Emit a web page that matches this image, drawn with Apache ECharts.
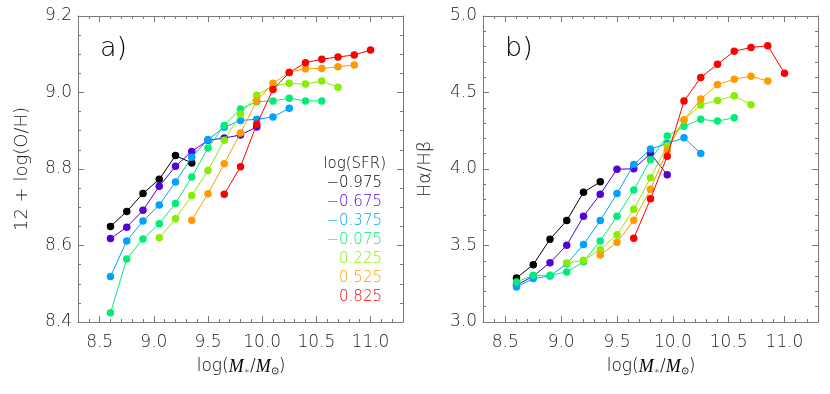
<!DOCTYPE html>
<html><head><meta charset="utf-8">
<script src="https://cdn.jsdelivr.net/npm/echarts@6/dist/echarts.min.js"></script>
<style>html,body{margin:0;padding:0;background:#fff}#c{width:830px;height:394px}</style>
</head><body><div id="c"></div>
<script>
// ---------- data ----------
const masses = [8.60, 8.75, 8.90, 9.05, 9.20, 9.35, 9.50, 9.65, 9.80, 9.95, 10.10, 10.25, 10.40, 10.55, 10.70, 10.85, 11.00];
const sfrLabels = ['\u22120.975', '\u22120.675', '\u22120.375', '\u22120.075', '0.225', '0.525', '0.825'];
const sfrColors = ['#000000', '#5200d6', '#00a2ff', '#00ee78', '#88ee00', '#ff9a00', '#ff0000'];
const startBin = [0, 0, 0, 0, 3, 5, 7];

// panel a) 12 + log(O/H)
const ohM0975 = [8.650, 8.689, 8.736, 8.773, 8.835, 8.816];
const ohM0675 = [8.618, 8.648, 8.692, 8.755, 8.807, 8.846, 8.875, 8.881, 8.889, 8.910];
const ohM0375 = [8.519, 8.612, 8.664, 8.706, 8.766, 8.831, 8.877, 8.909, 8.927, 8.930, 8.936, 8.959];
const ohM0075 = [8.424, 8.565, 8.617, 8.657, 8.710, 8.779, 8.855, 8.914, 8.957, 8.976, 8.978, 8.985, 8.978, 8.978];
const ohP0225 = [8.620, 8.670, 8.731, 8.796, 8.875, 8.943, 8.993, 9.017, 9.024, 9.022, 9.030, 9.014];
const ohP0525 = [8.666, 8.735, 8.814, 8.894, 8.978, 9.024, 9.053, 9.062, 9.063, 9.067, 9.072];
const ohP0825 = [8.734, 8.806, 8.917, 9.008, 9.052, 9.078, 9.087, 9.093, 9.098, 9.111];

// panel b) Halpha/Hbeta
const baM0975 = [3.288, 3.375, 3.541, 3.663, 3.848, 3.916];
const baM0675 = [3.240, 3.300, 3.388, 3.502, 3.691, 3.835, 3.999, 4.001, 4.101, 3.962];
const baM0375 = [3.229, 3.284, 3.301, 3.380, 3.506, 3.663, 3.840, 4.029, 4.130, 4.167, 4.204, 4.102];
const baM0075 = [3.262, 3.305, 3.305, 3.327, 3.393, 3.530, 3.691, 3.862, 4.060, 4.215, 4.280, 4.325, 4.313, 4.335];
const baP0225 = [3.385, 3.403, 3.473, 3.571, 3.737, 3.942, 4.152, 4.320, 4.419, 4.448, 4.479, 4.420];
const baP0525 = [3.438, 3.521, 3.665, 3.868, 4.123, 4.321, 4.457, 4.552, 4.587, 4.606, 4.575];
const baP0825 = [3.547, 3.805, 4.084, 4.444, 4.598, 4.685, 4.770, 4.794, 4.806, 4.626];

// ticks
const xTicks = [8.5, 9.0, 9.5, 10.0, 10.5, 11.0];
const xMinorTicks = [8.3,8.4,8.5,8.6,8.7,8.8,8.9,9.0,9.1,9.2,9.3,9.4,9.5,9.6,9.7,9.8,9.9,10.0,10.1,10.2,10.3,10.4,10.5,10.6,10.7,10.8,10.9,11.0,11.1,11.2,11.3];
const yTicksA = [8.4, 8.6, 8.8, 9.0, 9.2];
const yMinorA = [8.4,8.45,8.5,8.55,8.6,8.65,8.7,8.75,8.8,8.85,8.9,8.95,9.0,9.05,9.1,9.15,9.2];
const yTicksB = [3.0, 3.5, 4.0, 4.5, 5.0];
const yMinorB = [3.0,3.1,3.2,3.3,3.4,3.5,3.6,3.7,3.8,3.9,4.0,4.1,4.2,4.3,4.4,4.5,4.6,4.7,4.8,4.9,5.0];

// ---------- chart ----------
const FONT = "'DejaVu Sans', sans-serif";
const AX = '#7a7a7a';
const TXT = '#222';
const X_MIN = 8.3, X_MAX = 11.3;

function xAxesFor(g) {
  const base = {gridIndex: g, type: 'value', min: X_MIN, max: X_MAX, splitLine: {show: false}};
  return [
    Object.assign({}, base, {position: 'bottom',
      axisLine: {show: true, lineStyle: {color: AX, width: 1}},
      axisTick: {show: true, inside: true, length: 6, customValues: xTicks, lineStyle: {color: AX}},
      axisLabel: {show: true, customValues: xTicks, formatter: v => v.toFixed(1), margin: 12,
        fontSize: 17, color: TXT, fontFamily: FONT, fontWeight: 200}}),
    Object.assign({}, base, {position: 'bottom', axisLine: {show: false},
      axisTick: {show: true, inside: true, length: 3, customValues: xMinorTicks, lineStyle: {color: AX}},
      axisLabel: {show: false}}),
    Object.assign({}, base, {position: 'top',
      axisLine: {show: true, lineStyle: {color: AX, width: 1}},
      axisTick: {show: true, inside: true, length: 6, customValues: xTicks, lineStyle: {color: AX}},
      axisLabel: {show: false}}),
    Object.assign({}, base, {position: 'top', axisLine: {show: false},
      axisTick: {show: true, inside: true, length: 3, customValues: xMinorTicks, lineStyle: {color: AX}},
      axisLabel: {show: false}})
  ];
}
function yAxesFor(g, mn, mx, major, minor) {
  const base = {gridIndex: g, type: 'value', min: mn, max: mx, splitLine: {show: false}};
  return [
    Object.assign({}, base, {position: 'left',
      axisLine: {show: true, lineStyle: {color: AX, width: 1}},
      axisTick: {show: true, inside: true, length: 6, customValues: major, lineStyle: {color: AX}},
      axisLabel: {show: true, customValues: major, formatter: v => v.toFixed(1), margin: 6,
        fontSize: 17, color: TXT, fontFamily: FONT, fontWeight: 200}}),
    Object.assign({}, base, {position: 'left', axisLine: {show: false},
      axisTick: {show: true, inside: true, length: 3, customValues: minor, lineStyle: {color: AX}},
      axisLabel: {show: false}}),
    Object.assign({}, base, {position: 'right',
      axisLine: {show: true, lineStyle: {color: AX, width: 1}},
      axisTick: {show: true, inside: true, length: 6, customValues: major, lineStyle: {color: AX}},
      axisLabel: {show: false}}),
    Object.assign({}, base, {position: 'right', axisLine: {show: false},
      axisTick: {show: true, inside: true, length: 3, customValues: minor, lineStyle: {color: AX}},
      axisLabel: {show: false}})
  ];
}

function makeSeries(g, arrays) {
  return arrays.map((vals, i) => ({
    type: 'line',
    xAxisIndex: 4 * g, yAxisIndex: 4 * g,
    data: vals.map((v, j) => [masses[startBin[i] + j], v]),
    symbol: 'circle', symbolSize: 7.5,
    showSymbol: true,
    lineStyle: {color: sfrColors[i], width: 1},
    itemStyle: {color: sfrColors[i]},
    clip: false,
    z: 2 + i
  }));
}

const seriesA = makeSeries(0, [ohM0975, ohM0675, ohM0375, ohM0075, ohP0225, ohP0525, ohP0825]);
const seriesB = makeSeries(1, [baM0975, baM0675, baM0375, baM0075, baP0225, baP0525, baP0825]);

const legendTexts = [{
  type: 'text', right: 830 - 386, top: 157,
  style: {text: 'log(SFR)', fill: '#000', font: "300 15px 'DejaVu Sans'", textAlign: 'right'}
}];
sfrLabels.forEach((t, i) => {
  legendTexts.push({type: 'text', right: 830 - 382, top: 176 + i * 19,
    style: {text: t, fill: sfrColors[i], font: "300 15px 'DejaVu Sans'", textAlign: 'right'}});
});

const xTitleRich = {
  n: {fontSize: 17, fontFamily: FONT, fontWeight: 200, color: TXT},
  i: {fontSize: 18, fontFamily: "'Liberation Serif'", fontStyle: 'italic', fontWeight: 'normal', color: TXT},
  s: {fontSize: 10, fontFamily: FONT, fontWeight: 200, color: TXT, verticalAlign: 'bottom', padding: [8, 0, 0, 0]}
};
const xTitleText = '{n|log(}{i|M}{s|\u2217}{n|/}{i|M}{s|\u2299}{n|)}';

const option = {
  animation: false,
  backgroundColor: '#fff',
  grid: [
    {left: 78, right: 427, top: 16, bottom: 72},
    {left: 483, right: 12, top: 16, bottom: 72}
  ],
  xAxis: xAxesFor(0).concat(xAxesFor(1)),
  yAxis: yAxesFor(0, 8.4, 9.2, yTicksA, yMinorA).concat(yAxesFor(1, 3.0, 5.0, yTicksB, yMinorB)),
  series: seriesA.concat(seriesB),
  graphic: [
    {type: 'text', left: 100, top: 35, style: {text: 'a)', font: "200 27px 'DejaVu Sans'", fill: '#000'}},
    {type: 'text', left: 505, top: 35, style: {text: 'b)', font: "200 27px 'DejaVu Sans'", fill: '#000'}},
    {type: 'text', x: 22, y: 169, rotation: Math.PI / 2,
      style: {text: '12 + log(O/H)', font: "200 18px 'DejaVu Sans'", fill: TXT, textAlign: 'center', textVerticalAlign: 'middle'}},
    {type: 'text', x: 425, y: 169, rotation: Math.PI / 2,
      style: {text: 'H\u03b1/H\u03b2', font: "200 18px 'DejaVu Sans'", fill: TXT, textAlign: 'center', textVerticalAlign: 'middle'}},
    {type: 'text', x: 241, y: 367,
      style: {text: xTitleText, rich: xTitleRich, textAlign: 'center', textVerticalAlign: 'middle'}},
    {type: 'text', x: 651, y: 367,
      style: {text: xTitleText, rich: xTitleRich, textAlign: 'center', textVerticalAlign: 'middle'}}
  ].concat(legendTexts)
};

const chart = echarts.init(document.getElementById('c'), null, {renderer: 'canvas'});
chart.setOption(option);
</script>
</body></html>
